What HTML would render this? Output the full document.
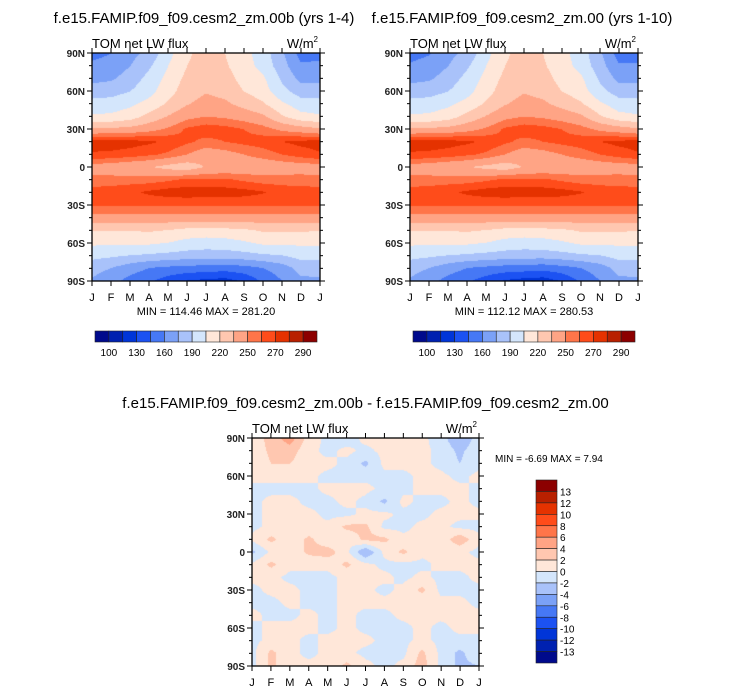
<!DOCTYPE html>
<html><head><meta charset="utf-8">
<style>
body{margin:0;background:#fff;width:733px;height:693px;overflow:hidden;font-family:"Liberation Sans",sans-serif;}
#root{position:relative;width:733px;height:693px;}
canvas{position:absolute;}
svg{position:absolute;left:0;top:0;}
</style></head>
<body>
<div id="root">
<canvas id="c1" width="228" height="228" style="left:92px;top:53px"></canvas>
<canvas id="c2" width="228" height="228" style="left:410px;top:53px"></canvas>
<canvas id="c3" width="227" height="228" style="left:252px;top:438px"></canvas>
<svg id="s" width="733" height="693"></svg>
</div>
<script>
const months=["J","F","M","A","M","J","J","A","S","O","N","D","J"];
const latLabels=["90N","60N","30N","0","30S","60S","90S"];
const palette=["#000a8c","#0021b0","#0035d8","#1c52f2","#4678f5","#7ba1f7","#a9c2fa","#d4e6fc","#ffe7d9","#ffc7b0","#ffa485","#ff7549","#ff4c1a","#e53200","#b82000","#8c0000"];
const levelsAbs=[100,115,130,145,160,175,190,205,220,235,250,260,270,280,290];
const absTickLabels=["100","130","160","190","220","250","270","290"];
const levelsDiff=[-13,-12,-10,-8,-6,-4,-2,0,2,4,6,8,10,12,13];
const diffTickLabels=["13","12","10","8","6","4","2","0","-2","-4","-6","-8","-10","-12","-13"];
// rows: 90N..90S by 10deg; cols: Jan..Jan
const fieldA=[
[156,160,170,180,200,218,225,220,210,198,178,155,156],
[163,166,175,188,205,220,226,222,212,200,182,162,163],
[171,173,182,195,210,224,230,226,215,208,188,171,171],
[182,184,190,200,214,228,234,230,220,212,195,183,182],
[196,197,202,210,222,234,240,238,230,222,208,197,196],
[207,208,213,225,236,246,250,248,244,238,222,210,207],
[237,238,240,245,252,262,266,264,260,255,247,242,237],
[274,275,274,272,268,262,257,260,263,265,270,273,274],
[269,268,266,262,258,250,242,245,250,255,260,265,269],
[244,242,238,236,230,226,236,238,240,240,242,243,244],
[253,254,255,255,258,262,262,262,258,255,255,255,253],
[265,266,268,272,275,276,275,275,274,271,266,265,265],
[261,261,262,262,262,262,262,262,262,262,262,262,261],
[246,246,246,245,245,245,245,245,245,245,246,245,246],
[221,221,221,222,220,216,215,216,218,222,222,222,221],
[208,208,208,208,205,200,198,199,203,208,208,208,208],
[195,193,190,188,186,184,183,183,185,188,190,196,195],
[181,175,167,160,157,155,154,152,155,160,168,180,181],
[173,165,155,148,138,130,127,125,133,148,160,172,173]];
const fieldB=[
[155,159,170,180,200,218,225,220,210,198,178,154,155],
[162,166,175,188,205,220,226,222,212,200,182,162,162],
[171,173,182,195,210,224,230,226,215,208,188,171,171],
[182,184,190,200,214,228,234,230,220,212,195,183,182],
[196,197,202,210,222,234,240,238,230,222,208,197,196],
[207,208,213,225,236,246,250,248,244,238,222,210,207],
[237,238,240,245,252,262,266,264,260,255,247,242,237],
[274,275,274,272,268,262,257,260,263,265,270,273,274],
[269,268,266,262,258,250,242,245,250,255,260,265,269],
[244,242,238,236,231,227,236,238,240,240,242,243,244],
[253,254,255,255,258,262,262,262,258,255,255,255,253],
[265,266,268,272,275,276,275,275,274,271,266,265,265],
[261,261,262,262,262,262,262,262,262,262,262,262,261],
[246,246,246,245,245,245,245,245,245,245,246,245,246],
[221,221,221,222,220,216,215,216,218,222,222,222,221],
[208,208,208,208,205,200,198,199,203,208,208,208,208],
[195,193,190,188,186,184,183,183,185,188,190,196,195],
[181,175,167,160,157,154,153,151,155,160,168,180,181],
[173,165,155,148,138,129,125,123,132,148,160,172,173]];
const fieldD=[
[0.5,3,5,1,-0.5,-1,0.5,0.5,0.5,0.5,-1,-4,-1],
[0.5,2.5,3,0.5,-0.5,0.5,-0.5,0.5,0.5,0.5,-0.5,-2.5,-0.5],
[0.5,2,2,0.5,0.5,-0.5,-2.5,0.5,0.5,0.5,-0.5,-2,-0.5],
[0.5,0.5,0.5,0.5,-0.5,-0.5,-0.5,-0.5,-0.5,0.5,0.5,-0.5,0.5],
[-0.5,-0.5,-0.5,-0.5,0.5,0.5,0.5,-0.5,-0.5,0.5,0.5,0.5,-0.5],
[-0.5,0.5,0.5,-0.5,-0.5,0.5,-0.5,-2.5,0.5,-0.5,-0.5,0.5,-0.5],
[-0.5,0.5,0.5,0.5,-0.5,-0.5,0.5,0.5,-0.5,-0.5,0.5,0.5,0.5],
[-0.5,0.5,0.5,0.5,0.5,2.5,2.5,-0.5,-0.5,0.5,0.5,-0.5,-0.5],
[0.5,2.5,0.5,2.5,0.5,0.5,2.5,2.5,0.5,0.5,0.5,3.5,0.5],
[-2.5,0.5,0.5,2.5,3,0.5,-4,0.5,2.5,0.5,0.5,0.5,-0.5],
[0.5,2.5,0.5,0.5,0.5,2.5,0.5,-0.5,-0.5,-0.5,0.5,0.5,0.5],
[0.5,0.5,-0.5,-0.5,-0.5,0.5,0.5,0.5,-0.5,0.5,-0.5,-0.5,0.5],
[-0.5,0.5,0.5,-0.5,-0.5,0.5,0.5,-0.5,0.5,2.5,-0.5,-0.5,-0.5],
[-0.5,-0.5,0.5,-0.5,-0.5,0.5,0.5,0.5,0.5,0.5,0.5,0.5,-0.5],
[0.5,-0.5,-0.5,0.5,-0.5,0.5,-0.5,-0.5,0.5,0.5,0.5,0.5,0.5],
[-0.5,0.5,0.5,0.5,-0.5,0.5,-0.5,-0.5,-0.5,0.5,-0.5,0.5,0.5],
[-0.5,0.5,0.5,-0.5,0.5,0.5,0.5,-0.5,-0.5,0.5,-0.5,-0.5,-0.5],
[-0.5,2.5,0.5,-0.5,0.5,0.5,-0.5,-0.5,-0.5,2.5,-0.5,-2.5,-0.5],
[-0.5,2.5,0.5,0.5,0.5,2.5,0.5,-0.5,0.5,3,-0.5,-2.5,-2]];

function hex(h){return [parseInt(h.substr(1,2),16),parseInt(h.substr(3,2),16),parseInt(h.substr(5,2),16)];}
const pal=palette.map(hex);
function colorIdx(v,lv){let i=0;while(i<lv.length&&v>=lv[i])i++;return i;}
function drawField(id,f,lv){
  const c=document.getElementById(id),ctx=c.getContext('2d'),W=c.width,H=c.height;
  const img=ctx.createImageData(W,H),R=f.length-1,C=f[0].length-1;
  for(let y=0;y<H;y++){const fy=y/(H-1)*R,r0=Math.min(Math.floor(fy),R-1),ty=fy-r0;
    for(let x=0;x<W;x++){const fx=x/(W-1)*C,c0=Math.min(Math.floor(fx),C-1),tx=fx-c0;
      const v=(f[r0][c0]*(1-tx)+f[r0][c0+1]*tx)*(1-ty)+(f[r0+1][c0]*(1-tx)+f[r0+1][c0+1]*tx)*ty;
      const col=pal[colorIdx(v,lv)],k=(y*W+x)*4;
      img.data[k]=col[0];img.data[k+1]=col[1];img.data[k+2]=col[2];img.data[k+3]=255;}}
  ctx.putImageData(img,0,0);
}
drawField('c1',fieldA,levelsAbs);drawField('c2',fieldB,levelsAbs);drawField('c3',fieldD,levelsDiff);

const svg=document.getElementById('s'),NS="http://www.w3.org/2000/svg";
function el(t,a,txt){const e=document.createElementNS(NS,t);for(const k in a)e.setAttribute(k,a[k]);if(txt!==undefined)e.textContent=txt;svg.appendChild(e);return e;}
function panel(x0,y0,w,h,title,name,stats,sx){
  let t=el('text',{x:x0+w/2+(sx||0),y:y0-30,'font-size':15,'text-anchor':'middle'},title);
  
  t=el('text',{x:x0,y:y0-5,'font-size':13},'TOM net LW flux');
  
  t=el('text',{x:x0+w-2,y:y0-5,'font-size':13,'text-anchor':'end'});
  t.innerHTML='W/m<tspan font-size="8" dy="-6">2</tspan>';
  
  const fr=el('rect',{x:x0,y:y0,width:w,height:h,fill:'none',stroke:'#000','stroke-width':1.3});
  
  for(let i=0;i<=18;i++){const yy=y0+h*i/18,L=(i%3==0)?5:3;
    el('line',{x1:x0-L,x2:x0,y1:yy,y2:yy,stroke:'#000'});el('line',{x1:x0+w,x2:x0+w+L,y1:yy,y2:yy,stroke:'#000'});}
  latLabels.forEach((s,i)=>{const e=el('text',{x:x0-7,y:y0+h*i/6+4,'font-size':10,'font-weight':'bold','text-anchor':'end',fill:'#222'},s);
    });
  months.forEach((m,i)=>{const xx=x0+w*i/12;
    el('line',{x1:xx,x2:xx,y1:y0-5,y2:y0,stroke:'#000'});el('line',{x1:xx,x2:xx,y1:y0+h,y2:y0+h+5,stroke:'#000'});
    const e=el('text',{x:xx,y:y0+h+20,'font-size':11,'text-anchor':'middle'},m);
    });
  if(stats){const e=el('text',{x:x0+w/2,y:y0+h+34,'font-size':11,'text-anchor':'middle'},stats);
    }
}
panel(92,53,228,228,'f.e15.FAMIP.f09_f09.cesm2_zm.00b (yrs 1-4)','left-plot','MIN = 114.46 MAX = 281.20',-2);
panel(410,53,228,228,'f.e15.FAMIP.f09_f09.cesm2_zm.00 (yrs 1-10)','right-plot','MIN = 112.12 MAX = 280.53',-2);
panel(252,438,227,228,'f.e15.FAMIP.f09_f09.cesm2_zm.00b - f.e15.FAMIP.f09_f09.cesm2_zm.00','diff-plot',null,0);
let mm=el('text',{x:495,y:462,'font-size':10},'MIN =  -6.69 MAX =   7.94');


function hbar(x0,y0,w,h,name){
  const bw=w/palette.length;
  palette.forEach((c,i)=>{const r=el('rect',{x:x0+i*bw,y:y0,width:bw,height:h,fill:c,stroke:'#222','stroke-width':0.6});
    });
  absTickLabels.forEach((s,i)=>{const e=el('text',{x:x0+bw*(1+2*i),y:y0+h+14,'font-size':10,'text-anchor':'middle'},s);
    });
}
hbar(95,331,222,11,'left-colorbar');hbar(413,331,222,11,'right-colorbar');
(function(){const x0=536,y0=480,w=21,h=183,bh=h/16;
  palette.slice().reverse().forEach((c,i)=>{const r=el('rect',{x:x0,y:y0+i*bh,width:w,height:bh,fill:c,stroke:'#222','stroke-width':0.6});
    });
  diffTickLabels.forEach((s,i)=>{const e=el('text',{x:x0+w+3,y:y0+bh*(i+1)+4,'font-size':10},s);
    });
})();
</script>
</body></html>
